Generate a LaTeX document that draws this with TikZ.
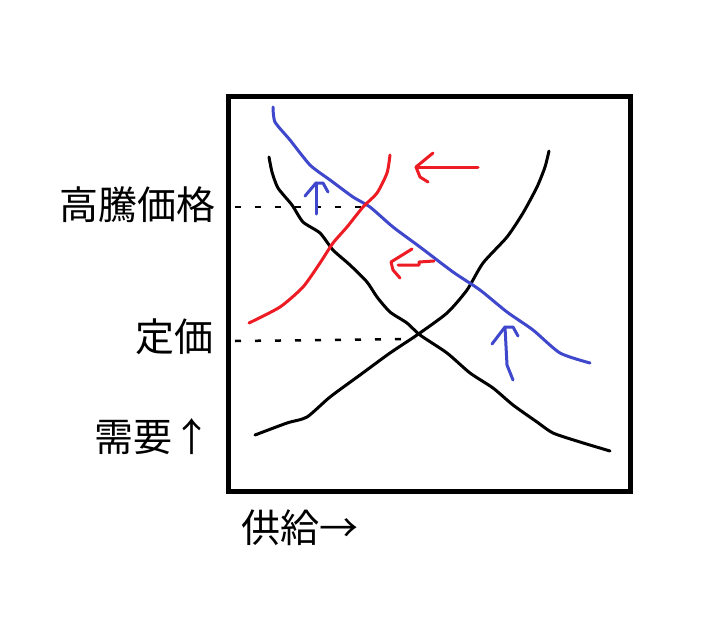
\documentclass[tikz,border=0pt]{standalone}
\usepackage{fontspec}
\newfontfamily\jp{Noto Sans CJK JP}
\definecolor{pblue}{RGB}{63,72,204}
\definecolor{pred}{RGB}{237,28,36}
\begin{document}
\begin{tikzpicture}[x=1pt,y=-1pt,
  curve/.style={line width=3pt, line join=round, line cap=round},
  guide/.style={line width=2.5pt, dash pattern=on 6pt off 14pt},
  lbl/.style={font=\jp\fontsize{39}{42}\selectfont, inner sep=0pt}]
\useasboundingbox (0,0) rectangle (712,624);
\fill[white] (0,0) rectangle (712,624);
% guide lines
\draw[guide] (235,207) -- (365,207);
\draw[guide] (235,341) -- (415,339);
% black demand curve
\draw[curve] plot[smooth, tension=0.4] coordinates {(269,157) (272,172) (278,188) (292,205) (303,222) (320,233) (333,250) (350,265) (367,282) (377,297) (390,312) (407,323) (420,335) (447,353) (470,373) (493,388) (513,405) (537,422) (553,433) (580,442) (610,451)};
% black supply curve
\draw[curve] plot[smooth, tension=0.4] coordinates {(255,435) (287,423) (307,417) (330,397) (360,375) (390,353) (417,335) (447,313) (467,290) (483,263) (507,237) (523,213) (537,187) (545,167) (549,151)};
% blue shifted demand
\draw[curve, pblue] plot[smooth, tension=0.4] coordinates {(273,107) (275,122) (290,140) (310,165) (330,180) (353,197) (370,207) (393,227) (420,247) (453,272) (480,290) (507,312) (533,330) (560,353) (590,363)};
% red shifted supply
\draw[curve, pred] plot[smooth, tension=0.4] coordinates {(249,323) (280,307) (303,287) (320,263) (333,243) (347,227) (363,207) (377,193) (387,173) (390,155)};
% red arrows
\draw[curve, pred] (478,167) -- (416,167);
\draw[curve, pred] (433,153) -- (416,167) -- (420,177) -- (428,182);
\draw[curve, pred] (434,261) -- (419,262) -- (419,265) -- (398,265);
\draw[curve, pred] (412,249) -- (391,262) -- (393,270) -- (400,278);
% blue arrows
\draw[curve, pblue] (316,214) -- (316,183);
\draw[curve, pblue] (305,196) -- (316,183) -- (323,183) -- (328,192);
\draw[curve, pblue] (513,380) -- (507,365) -- (505,327);
\draw[curve, pblue] (492,344) -- (505,327) -- (513,327) -- (518,336);
% frame
\draw[line width=5pt] (228,96) rectangle (630,491);
% labels
\node[lbl, anchor=east] (hp) at (216,205) {高騰価格};
\node[lbl, anchor=east] (fp) at (214,337) {定価};
\node[lbl, anchor=east] (dm) at (212,437) {需要↑};
\node[lbl, anchor=west] (sp) at (241,528) {供給→};
\end{tikzpicture}
\end{document}
